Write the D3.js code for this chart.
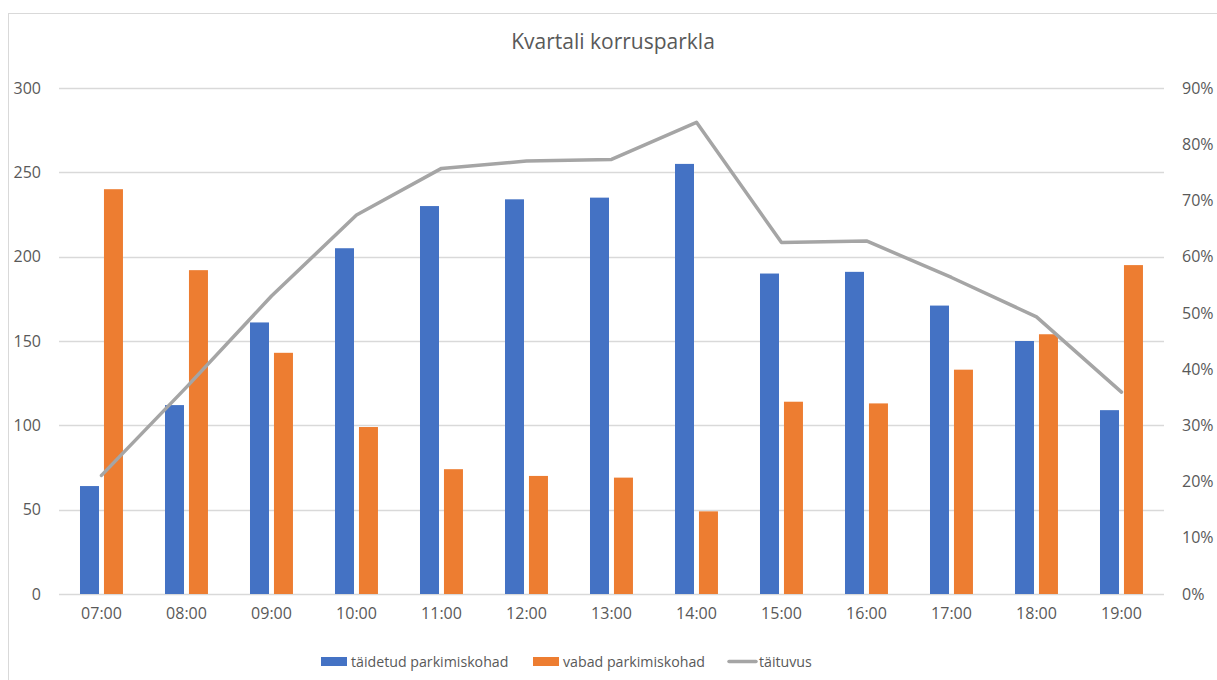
<!DOCTYPE html>
<html>
<head>
<meta charset="utf-8">
<script src="https://cdn.jsdelivr.net/npm/d3@7"></script>
<style>
  html, body { margin: 0; padding: 0; background: #fff; }
  svg { display: block; font-family: "Open Sans", "Noto Sans", sans-serif; }
</style>
</head>
<body>
<svg id="chart" width="1217" height="680"></svg>
<script>
const title = "Kvartali korrusparkla";
const categories = ["07:00","08:00","09:00","10:00","11:00","12:00","13:00","14:00","15:00","16:00","17:00","18:00","19:00"];
const filled = [64, 112, 161, 205, 230, 234, 235, 255, 190, 191, 171, 150, 109];
const free = [240, 192, 143, 99, 74, 70, 69, 49, 114, 113, 133, 154, 195];
const occupancy = [0.211, 0.368, 0.530, 0.674, 0.757, 0.770, 0.773, 0.839, 0.625, 0.628, 0.563, 0.493, 0.359];
const leftTicks = [0, 50, 100, 150, 200, 250, 300];
const rightTicks = [0, 0.1, 0.2, 0.3, 0.4, 0.5, 0.6, 0.7, 0.8, 0.9];
const seriesNames = ["täidetud parkimiskohad", "vabad parkimiskohad", "täituvus"];

const colors = { blue: "#4472C4", orange: "#ED7D31", gray: "#A5A5A5", grid: "#D9D9D9", text: "#595959" };

const svg = d3.select("#chart");
const plot = { left: 59, right: 1164, top: 88, bottom: 594 };

// chart border
svg.append("rect").attr("x", 8.5).attr("y", 13.5).attr("width", 1300).attr("height", 800)
  .attr("fill", "none").attr("stroke", colors.grid).attr("stroke-width", 1);

const x = d3.scaleBand().domain(categories).range([plot.left, plot.right]).padding(0);
const yL = d3.scaleLinear().domain([0, 300]).range([plot.bottom, plot.top]);
const yR = d3.scaleLinear().domain([0, 0.9]).range([plot.bottom, plot.top]);
const bw = x.bandwidth();

// gridlines
svg.append("g").selectAll("line").data(leftTicks).join("line")
  .attr("x1", plot.left).attr("x2", plot.right)
  .attr("y1", d => Math.round(yL(d)) + 0.5).attr("y2", d => Math.round(yL(d)) + 0.5)
  .attr("stroke", colors.grid).attr("stroke-width", 1.3);

// left axis
const axL = d3.axisLeft(yL).tickValues(leftTicks).tickSize(0).tickPadding(0);
const gL = svg.append("g").attr("transform", "translate(41,0)").call(axL);
gL.select(".domain").remove();
gL.selectAll("text").attr("fill", colors.text).style("font-size", "16px").attr("x", 0)
  .style("font-family", "'Open Sans', sans-serif");

// right axis
const axR = d3.axisRight(yR).tickValues(rightTicks).tickFormat(d3.format(".0%")).tickSize(0).tickPadding(0);
const gR = svg.append("g").attr("transform", "translate(1182,0)").call(axR);
gR.select(".domain").remove();
gR.selectAll("text").attr("fill", colors.text).style("font-size", "16px").attr("x", 0)
  .style("font-family", "'Open Sans', sans-serif");

// bottom axis
const axB = d3.axisBottom(x).tickSize(0).tickPadding(0);
const gB = svg.append("g").attr("transform", `translate(0,${plot.bottom})`).call(axB);
gB.select(".domain").remove();
gB.selectAll("text").attr("fill", colors.text).style("font-size", "16px").attr("dy", "1.55em")
  .style("font-family", "'Open Sans', sans-serif");

// bars
const barW = bw * 0.2235;
svg.append("g").selectAll("rect").data(categories).join("rect")
  .attr("x", d => x(d) + bw * 0.247).attr("width", barW)
  .attr("y", (d, i) => yL(filled[i])).attr("height", (d, i) => yL(0) - yL(filled[i]))
  .attr("fill", colors.blue);
svg.append("g").selectAll("rect").data(categories).join("rect")
  .attr("x", d => x(d) + bw * 0.529).attr("width", barW)
  .attr("y", (d, i) => yL(free[i])).attr("height", (d, i) => yL(0) - yL(free[i]))
  .attr("fill", colors.orange);

// line
const line = d3.line().x((d, i) => x(categories[i]) + bw / 2).y(d => yR(d));
svg.append("path").datum(occupancy).attr("d", line)
  .attr("fill", "none").attr("stroke", colors.gray).attr("stroke-width", 3.5)
  .attr("stroke-linejoin", "round").attr("stroke-linecap", "round");

// title
svg.append("text").attr("x", 613).attr("y", 49).attr("text-anchor", "middle")
  .attr("fill", colors.text).style("font-size", "21px").text(title);

// legend
const lg = svg.append("g").style("font-size", "14.2px").attr("fill", colors.text);
lg.append("rect").attr("x", 321).attr("y", 657).attr("width", 26).attr("height", 9).attr("fill", colors.blue);
lg.append("text").attr("x", 351).attr("y", 667).text(seriesNames[0]);
lg.append("rect").attr("x", 533).attr("y", 657).attr("width", 26).attr("height", 9).attr("fill", colors.orange);
lg.append("text").attr("x", 563).attr("y", 667).text(seriesNames[1]);
lg.append("line").attr("x1", 729).attr("x2", 756).attr("y1", 661.5).attr("y2", 661.5)
  .attr("stroke", colors.gray).attr("stroke-width", 3.5).attr("stroke-linecap", "round");
lg.append("text").attr("x", 759).attr("y", 667).text(seriesNames[2]);
</script>
</body>
</html>
